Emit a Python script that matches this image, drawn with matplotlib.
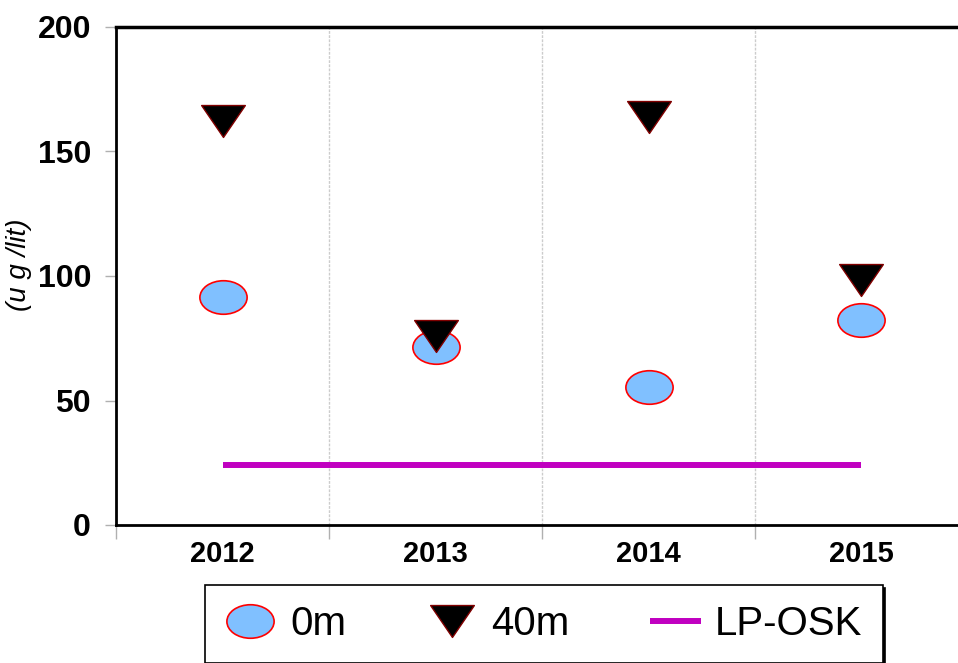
import matplotlib
matplotlib.use("Agg")
import matplotlib.pyplot as plt
import numpy as np
from matplotlib.path import Path

# datos
years = ["2012", "2013", "2014", "2015"]
val_0m = [91.6, 71.5, 55.5, 82.5]
val_40m = [162.4, 76.0, 163.7, 98.4]
lp_osk = [24, 24, 24, 24]

plt.rcParams['font.family'] = ['Liberation Sans', 'DejaVu Sans']

# marcadores propios: elipse y triangulo achatado
circ = Path.unit_circle()
ellipse = Path(circ.vertices * np.array([1.0, 0.71]), circ.codes)
tri = Path([(-1, 0.73), (1, 0.73), (0, -0.73), (-1, 0.73)],
           [Path.MOVETO, Path.LINETO, Path.LINETO, Path.CLOSEPOLY])

fig = plt.figure(figsize=(9.58, 6.63), dpi=100)
ax = fig.add_axes([116 / 958, 1 - 525 / 663, 852 / 958, 498 / 663])

x = np.arange(len(years))
l1, = ax.plot(x, val_0m, linestyle='none', marker=ellipse, markersize=34,
              markerfacecolor='#80C0FF', markeredgecolor='red', markeredgewidth=1.2,
              label='0m', zorder=3)
l2, = ax.plot(x, val_40m, linestyle='none', marker=tri, markersize=31.5,
              markerfacecolor='black', markeredgecolor='#800000', markeredgewidth=1.0,
              label='40m', zorder=4)
l3, = ax.plot(x, lp_osk, color='#C000C0', linewidth=4.3, solid_capstyle='butt',
              label='LP-OSK', zorder=2)

ax.set_xlim(-0.5, 3.5)
ax.set_ylim(0, 200)
ax.set_yticks([0, 50, 100, 150, 200])
ax.set_xticks(x)
ax.set_xticklabels(years)
ax.set_xticks([-0.5, 0.5, 1.5, 2.5], minor=True)
ax.tick_params(axis='x', which='major', length=0, pad=11, labelsize=21)
ax.tick_params(axis='x', which='minor', length=10, color='#b0b0b0', width=1)
ax.tick_params(axis='y', length=8, color='#b0b0b0', width=1, pad=10, labelsize=23)
for lab in ax.get_xticklabels() + ax.get_yticklabels():
    lab.set_fontweight('bold')

ax.grid(True, axis='x', which='minor', color='#cccccc', linewidth=1, linestyle=(0, (2, 1)))
ax.grid(False, axis='x', which='major')

ax.spines['right'].set_visible(False)
ax.spines['left'].set_linewidth(2)
ax.spines['bottom'].set_linewidth(2)
ax.spines['top'].set_linewidth(2.5)

ax.set_ylabel('(u g /lit)', fontsize=20, fontstyle='italic')
ax.yaxis.set_label_coords(-0.099, 0.522)

leg = fig.legend(handles=[l1, l2, l3], loc='upper left',
                 bbox_to_anchor=(205 / 958, 1 - 585 / 663), borderaxespad=0,
                 ncol=3, fontsize=29, frameon=True, fancybox=False,
                 edgecolor='black', borderpad=0.5, handlelength=1.25,
                 handletextpad=0.36, columnspacing=2.0,
                 shadow={'color': 'black', 'alpha': 1})
leg.get_frame().set_linewidth(1.2)

fig.savefig('out.png', dpi=100)
